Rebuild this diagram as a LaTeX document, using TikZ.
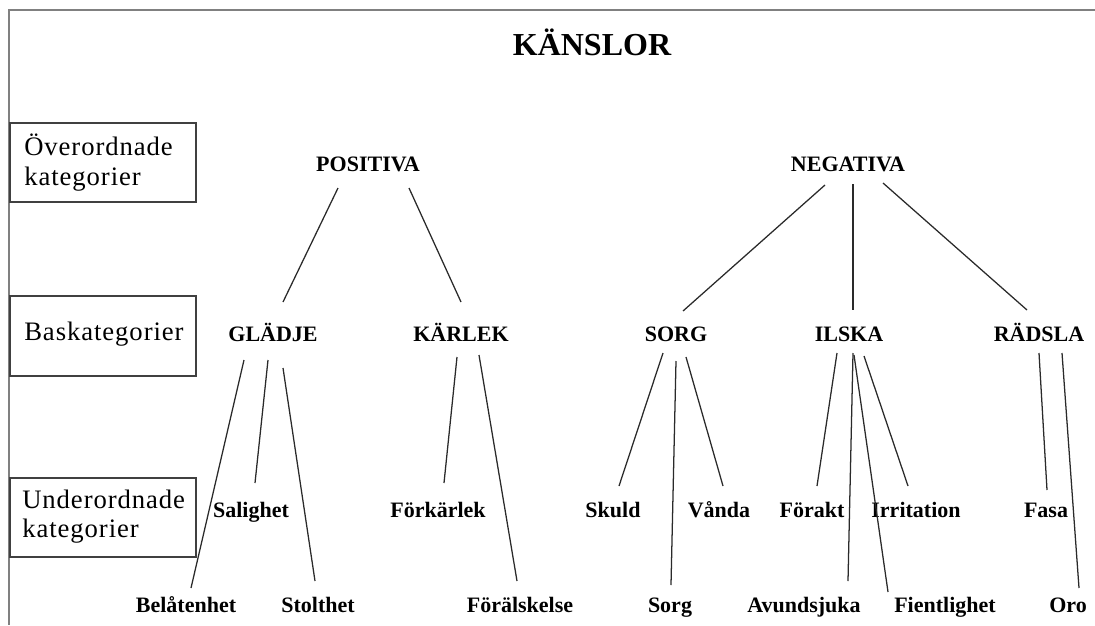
\documentclass[tikz,border=0pt]{standalone}
\usepackage{fontspec}
\setmainfont{Liberation Serif}
\newfontfamily\boxfont[LetterSpace=3.5]{Liberation Serif}
\definecolor{framegray}{HTML}{808080}
\definecolor{linegray}{HTML}{2A2A2A}
\definecolor{boxgray}{HTML}{404040}
\begin{document}
\begin{tikzpicture}[x=0.75pt,y=-0.75pt,
  lbl/.style={inner sep=0pt,anchor=base,font=\fontsize{16.5pt}{19pt}\selectfont\bfseries},
  ttl/.style={inner sep=0pt,anchor=base,font=\fontsize{24pt}{28pt}\selectfont\bfseries},
  boxtxt/.style={inner sep=0pt,anchor=base west,font=\boxfont\fontsize{20pt}{23pt}\selectfont},
  catbox/.style={draw=boxgray,line width=1.3pt},
  frame/.style={draw=framegray,line width=1.5pt},
  conn/.style={draw=linegray,line width=0.95pt}]
\useasboundingbox (0,0) rectangle (1095,625);
% frame
\draw[frame] (8,10) -- (1095,10);
\draw[frame] (9,10) -- (9,625);
% category boxes
\draw[catbox] (10,123) rectangle (196,202);
\draw[catbox] (10,296) rectangle (196,376);
\draw[catbox] (10,478) rectangle (196,557);
\node[boxtxt] (b1a) at (24,155) {Överordnade};
\node[boxtxt] (b1b) at (24,185) {kategorier};
\node[boxtxt] (b2) at (24,340) {Baskategorier};
\node[boxtxt] (b3a) at (22,508) {Underordnade};
\node[boxtxt] (b3b) at (22,537) {kategorier};
% title
\node[ttl] (title) at (592,55) {KÄNSLOR};
% superordinate
\node[lbl] (pos) at (368,171) {POSITIVA};
\node[lbl] (neg) at (848,171) {NEGATIVA};
% basic
\node[lbl] (gla) at (273,341) {GLÄDJE};
\node[lbl] (kar) at (461,341) {KÄRLEK};
\node[lbl] (sor) at (676,341) {SORG};
\node[lbl] (ils) at (849,341) {ILSKA};
\node[lbl] (rad) at (1039,341) {RÄDSLA};
% subordinate middle row
\node[lbl] (sal) at (251,517) {Salighet};
\node[lbl] (fkl) at (438,517) {Förkärlek};
\node[lbl] (sku) at (613,517) {Skuld};
\node[lbl] (van) at (719,517) {Vånda};
\node[lbl] (fra) at (812,517) {Förakt};
\node[lbl] (irr) at (916,517) {Irritation};
\node[lbl] (fas) at (1046,517) {Fasa};
% subordinate bottom row
\node[lbl] (bel) at (186,612) {Belåtenhet};
\node[lbl] (sto) at (318,612) {Stolthet};
\node[lbl] (fal) at (520,612) {Förälskelse};
\node[lbl] (sog) at (670,612) {Sorg};
\node[lbl] (avu) at (804,612) {Avundsjuka};
\node[lbl] (fie) at (945,612) {Fientlighet};
\node[lbl] (oro) at (1068,612) {Oro};
% connector end points
\coordinate (pos-g) at (338,188); \coordinate (g-pos) at (283,302);
\coordinate (pos-k) at (409,188); \coordinate (k-pos) at (461,302);
\coordinate (neg-s) at (825,185); \coordinate (s-neg) at (683,311);
\coordinate (neg-i) at (853,184); \coordinate (i-neg) at (853,310);
\coordinate (neg-r) at (883,183); \coordinate (r-neg) at (1027,310);
\coordinate (g-bel) at (244,360); \coordinate (bel-g) at (191,588);
\coordinate (g-sal) at (268,360); \coordinate (sal-g) at (255,483);
\coordinate (g-sto) at (283,368); \coordinate (sto-g) at (315,581);
\coordinate (k-fkl) at (457,357); \coordinate (fkl-k) at (444,483);
\coordinate (k-fal) at (479,355); \coordinate (fal-k) at (517,581);
\coordinate (s-sku) at (663,353); \coordinate (sku-s) at (619,486);
\coordinate (s-sog) at (676,361); \coordinate (sog-s) at (671,585);
\coordinate (s-van) at (686,357); \coordinate (van-s) at (723,486);
\coordinate (i-fra) at (837,353); \coordinate (fra-i) at (817,486);
\coordinate (i-avu) at (853,353); \coordinate (avu-i) at (848,581);
\coordinate (i-fie) at (854,355); \coordinate (fie-i) at (888,592);
\coordinate (i-irr) at (864,356); \coordinate (irr-i) at (908,486);
\coordinate (r-fas) at (1039,353); \coordinate (fas-r) at (1047,490);
\coordinate (r-oro) at (1062,353); \coordinate (oro-r) at (1079,588);
% connectors
\draw[conn] (pos-g) -- (g-pos);
\draw[conn] (pos-k) -- (k-pos);
\draw[conn] (neg-s) -- (s-neg);
\draw[conn] (neg-i) -- (i-neg);
\draw[conn] (neg-r) -- (r-neg);
\draw[conn] (g-bel) -- (bel-g);
\draw[conn] (g-sal) -- (sal-g);
\draw[conn] (g-sto) -- (sto-g);
\draw[conn] (k-fkl) -- (fkl-k);
\draw[conn] (k-fal) -- (fal-k);
\draw[conn] (s-sku) -- (sku-s);
\draw[conn] (s-sog) -- (sog-s);
\draw[conn] (s-van) -- (van-s);
\draw[conn] (i-fra) -- (fra-i);
\draw[conn] (i-avu) -- (avu-i);
\draw[conn] (i-fie) -- (fie-i);
\draw[conn] (i-irr) -- (irr-i);
\draw[conn] (r-fas) -- (fas-r);
\draw[conn] (r-oro) -- (oro-r);
\end{tikzpicture}
\end{document}
